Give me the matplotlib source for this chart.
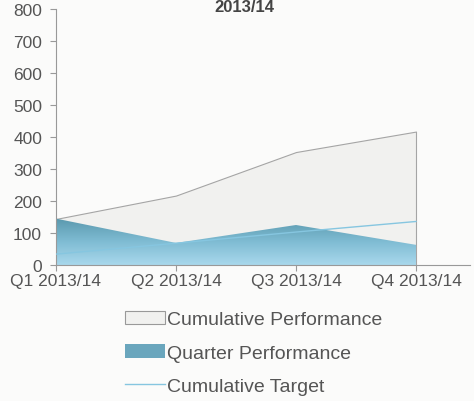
import numpy as np
import matplotlib
matplotlib.use('Agg')
import matplotlib.pyplot as plt
from matplotlib.patches import Patch, Polygon
from matplotlib.lines import Line2D

# Data
quarters = ['Q1 2013/14', 'Q2 2013/14', 'Q3 2013/14', 'Q4 2013/14']
cumulative_performance = [144, 217, 353, 417]
quarter_performance = [145, 69, 125, 63]
cumulative_target = [34, 68, 103, 136]

plt.rcParams['font.family'] = ['Liberation Sans', 'DejaVu Sans']
txt = '#555555'

fig = plt.figure(figsize=(4.74, 4.02), dpi=100)
fig.patch.set_facecolor('#fbfbfa')
ax = fig.add_axes([56 / 474, 1 - 266 / 402, 414 / 474, 256 / 402])
ax.set_facecolor('none')

x = np.arange(len(quarters))

# Cumulative performance area
ax.fill_between(x, 0, cumulative_performance, facecolor='#f1f1ef',
                edgecolor='#a5a5a5', linewidth=0.8, zorder=1)

# Quarter performance area with vertical gradient
poly = Polygon(np.column_stack([np.r_[x, x[::-1]],
                                np.r_[quarter_performance, np.zeros(len(x))]]),
               closed=True, facecolor='none', edgecolor='none')
ax.add_patch(poly)
grad = np.linspace(0, 1, 256).reshape(-1, 1)
cmap = matplotlib.colors.LinearSegmentedColormap.from_list(
    'q', ['#a9d8ec', '#7fbcd3', '#5a98ad'])
im = ax.imshow(grad, cmap=cmap, aspect='auto', origin='lower',
               extent=[0, 3, 0, max(quarter_performance)], zorder=2)
im.set_clip_path(poly)

# Cumulative target line
ax.plot(x, cumulative_target, color='#86c6e0', linewidth=1.0, zorder=3)

ax.set_xlim(0, 3 * 414 / 360)
ax.set_ylim(0, 800)
ax.set_yticks(range(0, 801, 100))
ax.set_xticks(x)
ax.set_xticklabels(quarters)
ax.tick_params(axis='both', colors='#999999', labelcolor=txt, labelsize=12.5,
               length=4, width=0.8)
ax.tick_params(axis='x', pad=2)
ax.tick_params(axis='y', pad=6)
for s in ['top', 'right']:
    ax.spines[s].set_visible(False)
for s in ['left', 'bottom']:
    ax.spines[s].set_color('#999999')
    ax.spines[s].set_linewidth(0.8)

# Title at the very top
fig.text(0.515, 0.999, '2013/14', ha='center', va='top', fontsize=12,
         fontweight='bold', color='#444444')

handles = [
    Patch(facecolor='#f1f1ef', edgecolor='#999999', linewidth=0.8),
    Patch(facecolor='#6aa6bd', edgecolor='none'),
    Line2D([], [], color='#86c6e0', linewidth=1.0),
]
labels = ['Cumulative Performance', 'Quarter Performance', 'Cumulative Target']
fig.legend(handles, labels, loc='upper center', bbox_to_anchor=(0.535, 0.268),
           frameon=False, fontsize=14, labelspacing=0.8, handlelength=2.1,
           handletextpad=0.1, labelcolor=txt)

fig.savefig('out.png', dpi=100, facecolor=fig.get_facecolor())
